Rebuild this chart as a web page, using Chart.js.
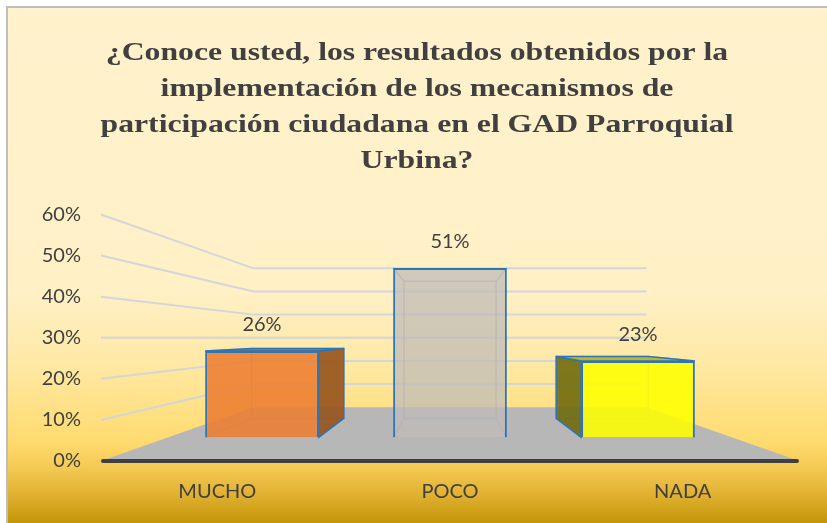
<!DOCTYPE html>
<html><head><meta charset="utf-8">
<script src="https://cdn.jsdelivr.net/npm/chart.js@4/dist/chart.umd.min.js"></script>
<style>html,body{margin:0;padding:0;background:#fff;} #wrap{width:827px;height:523px;position:relative;} canvas{display:block;}</style>
</head><body><div id="wrap"><canvas id="c" width="827" height="523"></canvas></div>
<script>
// ---- data ----
const categories = ['MUCHO', 'POCO', 'NADA'];
const values = [26, 51, 23];
const yTicks = [0, 10, 20, 30, 40, 50, 60];
const titleLines = ['¿Conoce usted, los resultados obtenidos por la', 'implementación de los mecanismos de', 'participación ciudadana en el GAD Parroquial', 'Urbina?'];

// ---- style / projection ----
const frontFill = ['rgba(237,125,49,0.88)', 'rgba(192,188,184,0.74)', 'rgba(255,255,0,0.88)'];
const sideFill = ['rgba(150,82,28,0.9)', 'rgba(170,168,165,0.6)', 'rgba(112,106,12,0.9)'];
const topFill = ['rgba(185,100,40,0.95)', 'rgba(200,198,195,0.7)', 'rgba(190,180,20,0.95)'];
const BLUE = 'rgba(46,117,182,1)';
const TXT = '#404040';
const TITLE_FONT = 'bold 26px "Liberation Serif"';
const TITLE_STRETCH = 1.22, TITLE_CX = 417, TITLE_LH = 36;
const VANISH_CAT = 1, VANISH_VAL = 30; // vanishing point (front-plane units)
const F_BAR = 0.808;  // depth factor of bar front faces
const K_DEPTH = 0.81; // back face relative to front face
const F_WALL = 0.563; // depth factor of back wall
const Y_MIN = 0, Y_MAX = 60;
const nCat = categories.length;
const front = {min: -0.5, max: nCat - 0.5};
const xbMin = VANISH_CAT - (VANISH_CAT - front.min) / F_BAR;
const xbMax = xbMin + (front.max - front.min) / F_BAR;
const ybMin = -(1 - F_BAR) * VANISH_VAL / F_BAR;
const ybMax = ybMin + (Y_MAX - Y_MIN) / F_BAR;

function poly(ctx, pts) { ctx.beginPath(); ctx.moveTo(pts[0][0], pts[0][1]); for (let i = 1; i < pts.length; i++) ctx.lineTo(pts[i][0], pts[i][1]); ctx.closePath(); }

const persp = {
  id: 'persp',
  beforeDraw(chart) {
    const {ctx, width, height} = chart;
    ctx.save();
    ctx.fillStyle = '#fff'; ctx.fillRect(0, 0, width, height);
    const g = ctx.createLinearGradient(0, 8, 0, height);
    g.addColorStop(0, '#FFF2CC');
    g.addColorStop(0.55, '#FFF0C6');
    g.addColorStop(0.686, '#FEE9A6');
    g.addColorStop(0.84, '#FFDB70');
    g.addColorStop(0.89, '#F5CB55');
    g.addColorStop(0.946, '#E0B030');
    g.addColorStop(1, '#C39507');
    ctx.fillStyle = g; ctx.fillRect(8, 8, width - 8, height - 8);
    ctx.strokeStyle = '#bfbfbf'; ctx.lineWidth = 2;
    ctx.beginPath(); ctx.moveTo(7, height); ctx.lineTo(7, 7); ctx.lineTo(width, 7); ctx.stroke();
    ctx.restore();
  },
  beforeDatasetsDraw(chart) {
    const {ctx, chartArea: ca} = chart;
    const xs = chart.scales.x, ys = chart.scales.y;
    const vx = xs.getPixelForValue(VANISH_CAT), vy = ys.getPixelForValue(VANISH_VAL);
    const proj = (x, y, f) => [vx + f * (x - vx), vy + f * (y - vy)];
    ctx.save();
    // walls gridlines
    ctx.strokeStyle = 'rgba(205,212,222,0.9)'; ctx.lineWidth = 2;
    ys.ticks.forEach(t => {
      if (t.value === Y_MIN) return;
      const y = ys.getPixelForValue(t.value);
      const b = proj(ca.left, y, F_WALL), c = proj(ca.right, y, F_WALL);
      ctx.beginPath(); ctx.moveTo(ca.left, y); ctx.lineTo(b[0], b[1]); ctx.lineTo(c[0], c[1]); ctx.stroke();
    });
    // floor
    const y0 = ys.getPixelForValue(Y_MIN);
    ctx.fillStyle = '#B7B7B7';
    poly(ctx, [[ca.left, y0], [ca.right, y0], proj(ca.right, y0, F_WALL), proj(ca.left, y0, F_WALL)]);
    ctx.fill();
    // hidden parts of 3D bars
    const meta = chart.getDatasetMeta(0);
    meta.data.forEach((bar, i) => {
      const p = bar.getProps(['x', 'y', 'base', 'width'], true);
      const L = p.x - p.width / 2, R = p.x + p.width / 2, T = p.y, B = p.base;
      const q = (x, y) => [vx + K_DEPTH * (x - vx), vy + K_DEPTH * (y - vy)];
      const LT = q(L, T), RT = q(R, T), LB = q(L, B), RB = q(R, B);
      ctx.strokeStyle = 'rgba(120,150,190,0.55)'; ctx.lineWidth = 1.5;
      poly(ctx, [LT, RT, RB, LB]); ctx.stroke();
      ctx.beginPath();
      ctx.moveTo(L, T); ctx.lineTo(LT[0], LT[1]);
      ctx.moveTo(R, T); ctx.lineTo(RT[0], RT[1]);
      ctx.moveTo(L, B); ctx.lineTo(LB[0], LB[1]);
      ctx.moveTo(R, B); ctx.lineTo(RB[0], RB[1]);
      ctx.stroke();
      ctx.lineWidth = 1.5; ctx.strokeStyle = BLUE;
      if (RT[0] > R) { ctx.fillStyle = sideFill[i]; poly(ctx, [[R, T], RT, RB, [R, B]]); ctx.fill(); ctx.stroke(); }
      if (LT[0] < L) { ctx.fillStyle = sideFill[i]; poly(ctx, [[L, T], LT, LB, [L, B]]); ctx.fill(); ctx.stroke(); }
      if (LT[1] < T) { ctx.fillStyle = topFill[i]; poly(ctx, [[L, T], [R, T], RT, LT]); ctx.fill(); ctx.stroke(); }
    });
    ctx.restore();
  },
  afterDatasetsDraw(chart) {
    const {ctx, chartArea: ca} = chart;
    const ys = chart.scales.y;
    const y0 = ys.getPixelForValue(Y_MIN);
    ctx.save();
    ctx.strokeStyle = '#404040'; ctx.lineWidth = 4; ctx.lineCap = 'round';
    ctx.beginPath(); ctx.moveTo(ca.left + 2, y0); ctx.lineTo(ca.right - 2, y0); ctx.stroke();
    const meta = chart.getDatasetMeta(0);
    ctx.fillStyle = TXT; ctx.font = '20px Lato'; ctx.textAlign = 'center'; ctx.textBaseline = 'middle';
    meta.data.forEach((bar, i) => {
      ctx.fillText(values[i] + '%', bar.x, bar.y - 26);
    });
    ctx.restore();
  },
  afterDraw(chart) {
    const {ctx} = chart;
    const tb = chart.titleBlock;
    const top = tb.top + tb.options.padding.top;
    ctx.save();
    ctx.fillStyle = TXT; ctx.font = TITLE_FONT; ctx.textAlign = 'center'; ctx.textBaseline = 'middle';
    titleLines.forEach((line, i) => {
      ctx.save();
      ctx.translate(TITLE_CX, top + TITLE_LH * (i + 0.5));
      ctx.scale(TITLE_STRETCH, 1);
      ctx.fillText(line, 0, 0);
      ctx.restore();
    });
    ctx.restore();
  }
};

new Chart(document.getElementById('c'), {
  type: 'bar',
  data: {
    labels: categories,
    datasets: [{
      data: values.map((v, i) => ({x: i, y: v})),
      xAxisID: 'xb', yAxisID: 'yb',
      backgroundColor: frontFill,
      borderColor: BLUE,
      borderWidth: 2,
      barPercentage: 0.605,
      categoryPercentage: 1
    }]
  },
  options: {
    responsive: false,
    animation: false,
    layout: {padding: {left: 8, right: 28, top: 0, bottom: 0}},
    plugins: {
      legend: {display: false},
      tooltip: {enabled: false},
      title: {
        display: true,
        text: titleLines,
        color: 'rgba(0,0,0,0)',
        font: {family: 'Liberation Serif', weight: 'bold', size: 26, lineHeight: TITLE_LH / 26},
        padding: {top: 35.5, bottom: 35}
      }
    },
    scales: {
      x: {
        type: 'category', offset: true,
        grid: {display: false, drawTicks: false}, border: {display: false},
        ticks: {color: TXT, font: {family: 'Lato', size: 20}, padding: 19}
      },
      y: {
        type: 'linear', min: Y_MIN, max: Y_MAX,
        afterBuildTicks: s => { s.ticks = yTicks.map(v => ({value: v})); },
        afterFit: s => { s.width = 93; },
        grid: {display: false, drawTicks: false}, border: {display: false},
        ticks: {color: TXT, font: {family: 'Lato', size: 20}, padding: 20, callback: v => v + '%'}
      },
      xb: {type: 'linear', display: false, min: xbMin, max: xbMax, offset: false, grid: {display: false},
        afterBuildTicks: s => { s.ticks = categories.map((c, i) => ({value: i})); }},
      yb: {type: 'linear', display: false, min: ybMin, max: ybMax, grid: {display: false}}
    }
  },
  plugins: [persp]
});
</script>
</body></html>
